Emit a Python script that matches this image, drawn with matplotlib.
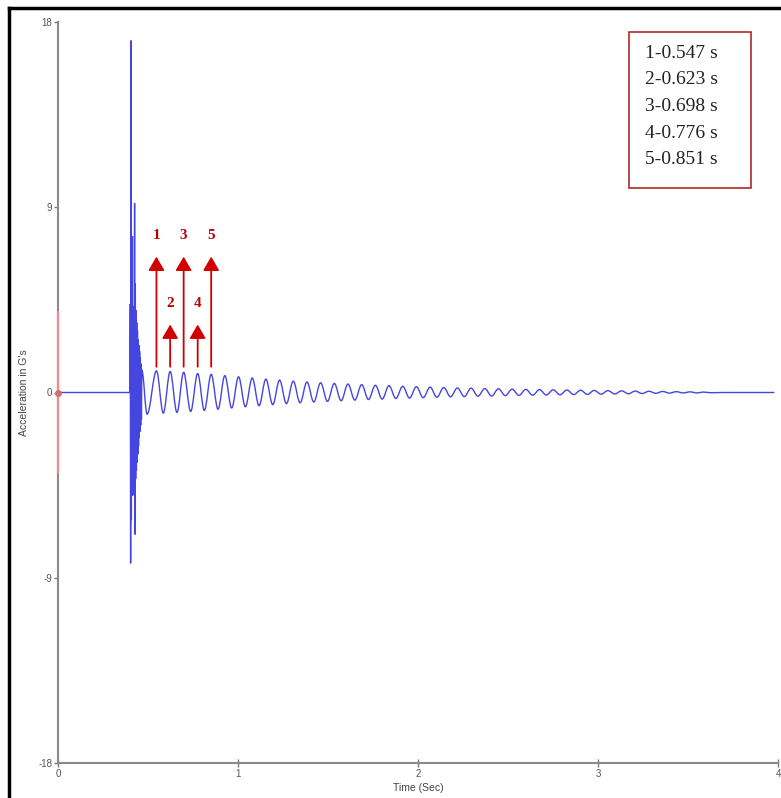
import numpy as np
import matplotlib
matplotlib.use("Agg")
import matplotlib.pyplot as plt
from matplotlib.patches import Rectangle, PathPatch
from matplotlib.path import Path
from matplotlib.lines import Line2D

plt.rcParams["axes.unicode_minus"] = False

# impact burst (time s, acceleration G)
burst_t = [0.0, 0.399, 0.4015, 0.4035, 0.4055, 0.4075, 0.4095, 0.4115, 0.4135, 0.4155,
           0.4175, 0.4195, 0.4215, 0.4235, 0.4255, 0.4275, 0.4295, 0.4315, 0.4335, 0.4355,
           0.4375, 0.4395, 0.4415, 0.4435, 0.4455, 0.4475, 0.4495, 0.4515, 0.4535, 0.4555,
           0.4575, 0.4595, 0.4615, 0.4635, 0.4655]
burst_g = [0.0, 0.0, 4.3, -8.3, 17.1, -6.2, 4.0, -4.6, 7.6, -5.0,
           4.2, -4.3, 3.8, -4.0, 9.2, -6.9, 5.3, -4.2, 4.0, -3.8,
           3.4, -3.4, 3.0, -3.0, 2.6, -2.6, 2.3, -2.2, 2.0, -1.9,
           1.7, -1.6, 1.4, -1.3, 1.1]

# free-vibration peaks and troughs
peak_t = [0.547, 0.623, 0.698, 0.776, 0.851, 0.927, 1.003, 1.079, 1.155, 1.231,
          1.307, 1.383, 1.459, 1.535, 1.611, 1.687, 1.763, 1.839, 1.915, 1.991,
          2.067, 2.143, 2.219, 2.295, 2.371, 2.447, 2.523, 2.599, 2.675, 2.751,
          2.827, 2.903, 2.979, 3.055, 3.131, 3.207, 3.283, 3.359, 3.435, 3.511, 3.587]
peak_g = [1.05, 1.02, 0.98, 0.92, 0.88, 0.82, 0.76, 0.70, 0.65, 0.60,
          0.55, 0.51, 0.47, 0.44, 0.41, 0.38, 0.35, 0.33, 0.30, 0.28,
          0.26, 0.24, 0.22, 0.21, 0.19, 0.18, 0.16, 0.15, 0.14, 0.13,
          0.12, 0.11, 0.10, 0.09, 0.08, 0.07, 0.06, 0.05, 0.04, 0.03, 0.02]
trough_t = [0.495, 0.585, 0.661, 0.737, 0.813, 0.889, 0.965, 1.041, 1.117, 1.193,
            1.269, 1.345, 1.421, 1.497, 1.573, 1.649, 1.725, 1.801, 1.877, 1.953,
            2.029, 2.105, 2.181, 2.257, 2.333, 2.409, 2.485, 2.561, 2.637, 2.713,
            2.789, 2.865, 2.941, 3.017, 3.093, 3.169, 3.245, 3.321, 3.397, 3.473,
            3.549, 3.625]
trough_g = [-1.05, -1.00, -0.97, -0.92, -0.87, -0.81, -0.75, -0.69, -0.64, -0.59,
            -0.54, -0.50, -0.46, -0.43, -0.40, -0.37, -0.34, -0.32, -0.29, -0.27,
            -0.25, -0.23, -0.21, -0.20, -0.18, -0.17, -0.15, -0.14, -0.13, -0.12,
            -0.11, -0.10, -0.09, -0.08, -0.07, -0.06, -0.05, -0.04, -0.03, -0.02,
            -0.02, -0.01]
tail_t = [3.70, 3.98]
tail_g = [0.0, 0.0]

# marked peaks
mark_labels = ["1", "2", "3", "4", "5"]
mark_t = [0.547, 0.623, 0.698, 0.776, 0.851]
mark_top = [6.6, 3.3, 6.6, 3.3, 6.6]
box_lines = ["1-0.547 s", "2-0.623 s", "3-0.698 s", "4-0.776 s", "5-0.851 s"]

t = np.array(burst_t + peak_t + trough_t + tail_t)
g = np.array(burst_g + peak_g + trough_g + tail_g)
order = np.argsort(t)
t, g = t[order], g[order]

fig = plt.figure(figsize=(7.81, 7.98), dpi=100)
ax = fig.add_axes([58 / 781, 35 / 798, 720 / 781, 741 / 798])

# smooth trace: cubic Bezier segments between the read extrema
verts = [(t[0], g[0])]
codes = [Path.MOVETO]
for i in range(1, len(t)):
    dt = t[i] - t[i - 1]
    verts += [(t[i - 1] + 0.36 * dt, g[i - 1]), (t[i] - 0.36 * dt, g[i]), (t[i], g[i])]
    codes += [Path.CURVE4] * 3
ax.add_patch(PathPatch(Path(verts, codes), fill=False, edgecolor="#4545e0", lw=1.0, zorder=3))

ax.set_xlim(0, 4)
ax.set_ylim(-18, 18)
ax.set_xticks([0, 1, 2, 3, 4])
ax.set_yticks([-18, -9, 0, 9, 18])
for s in ["top", "right"]:
    ax.spines[s].set_visible(False)
for s in ["left", "bottom"]:
    ax.spines[s].set_color("#8a8a8a")
    ax.spines[s].set_linewidth(1.5)
ax.tick_params(axis="x", direction="inout", length=6, width=1, colors="#777777",
               labelsize=7, labelcolor="#555555", pad=1)
ax.tick_params(axis="y", direction="out", length=3, width=1, colors="#777777",
               labelsize=7, labelcolor="#555555", pad=1)
for lab in ax.get_xticklabels() + ax.get_yticklabels():
    lab.set_family("Liberation Sans")

ax.set_xlabel("Time (Sec)", fontsize=7.5, color="#444444", family="Liberation Sans", labelpad=3)
ax.set_ylabel("Acceleration in G's", fontsize=7.5, color="#444444", family="Liberation Sans", labelpad=7)

# red marker on the y axis
ax.plot([0, 0], [-3.9, 3.9], color="#f08a8a", lw=1.6, zorder=4, clip_on=False)
ax.plot([0], [0], "o", ms=4, color="#d07070", zorder=5, clip_on=False)

# arrows with numbers
for lab, x, top in zip(mark_labels, mark_t, mark_top):
    ax.annotate("", xy=(x, top), xytext=(x, 1.25),
                arrowprops=dict(arrowstyle="-|>,head_width=0.35,head_length=0.6",
                                color="#d10000", lw=1.3, mutation_scale=14,
                                shrinkA=0, shrinkB=0), zorder=6)
    ax.text(x, top + 0.7, lab, ha="center", va="bottom", color="#b80000",
            fontsize=11, fontweight="bold", family="Liberation Serif")

# legend box with times
box_ax = ax.transAxes.inverted()
x0, y0 = box_ax.transform(fig.transFigure.transform((629 / 781, 1 - 188 / 798)))
x1, y1 = box_ax.transform(fig.transFigure.transform((751 / 781, 1 - 32 / 798)))
ax.add_patch(Rectangle((x0, y0), x1 - x0, y1 - y0, transform=ax.transAxes,
                       fill=True, facecolor="white", edgecolor="#b02a2a", lw=1.2, zorder=7))
for i, line in enumerate(box_lines):
    ax.text(645 / 781, 1 - (53 + i * 26.7) / 798, line, transform=fig.transFigure,
            ha="left", va="center", fontsize=14, color="#222222",
            family="Liberation Serif", zorder=8)

# black frame around the picture
fig.add_artist(Line2D([9 / 781, 9 / 781], [0, 1 - 8 / 798], transform=fig.transFigure,
                      color="black", lw=2.5))
fig.add_artist(Line2D([9 / 781, 1], [1 - 8 / 798, 1 - 8 / 798], transform=fig.transFigure,
                      color="black", lw=2.5))

fig.savefig("out.png", dpi=100)
